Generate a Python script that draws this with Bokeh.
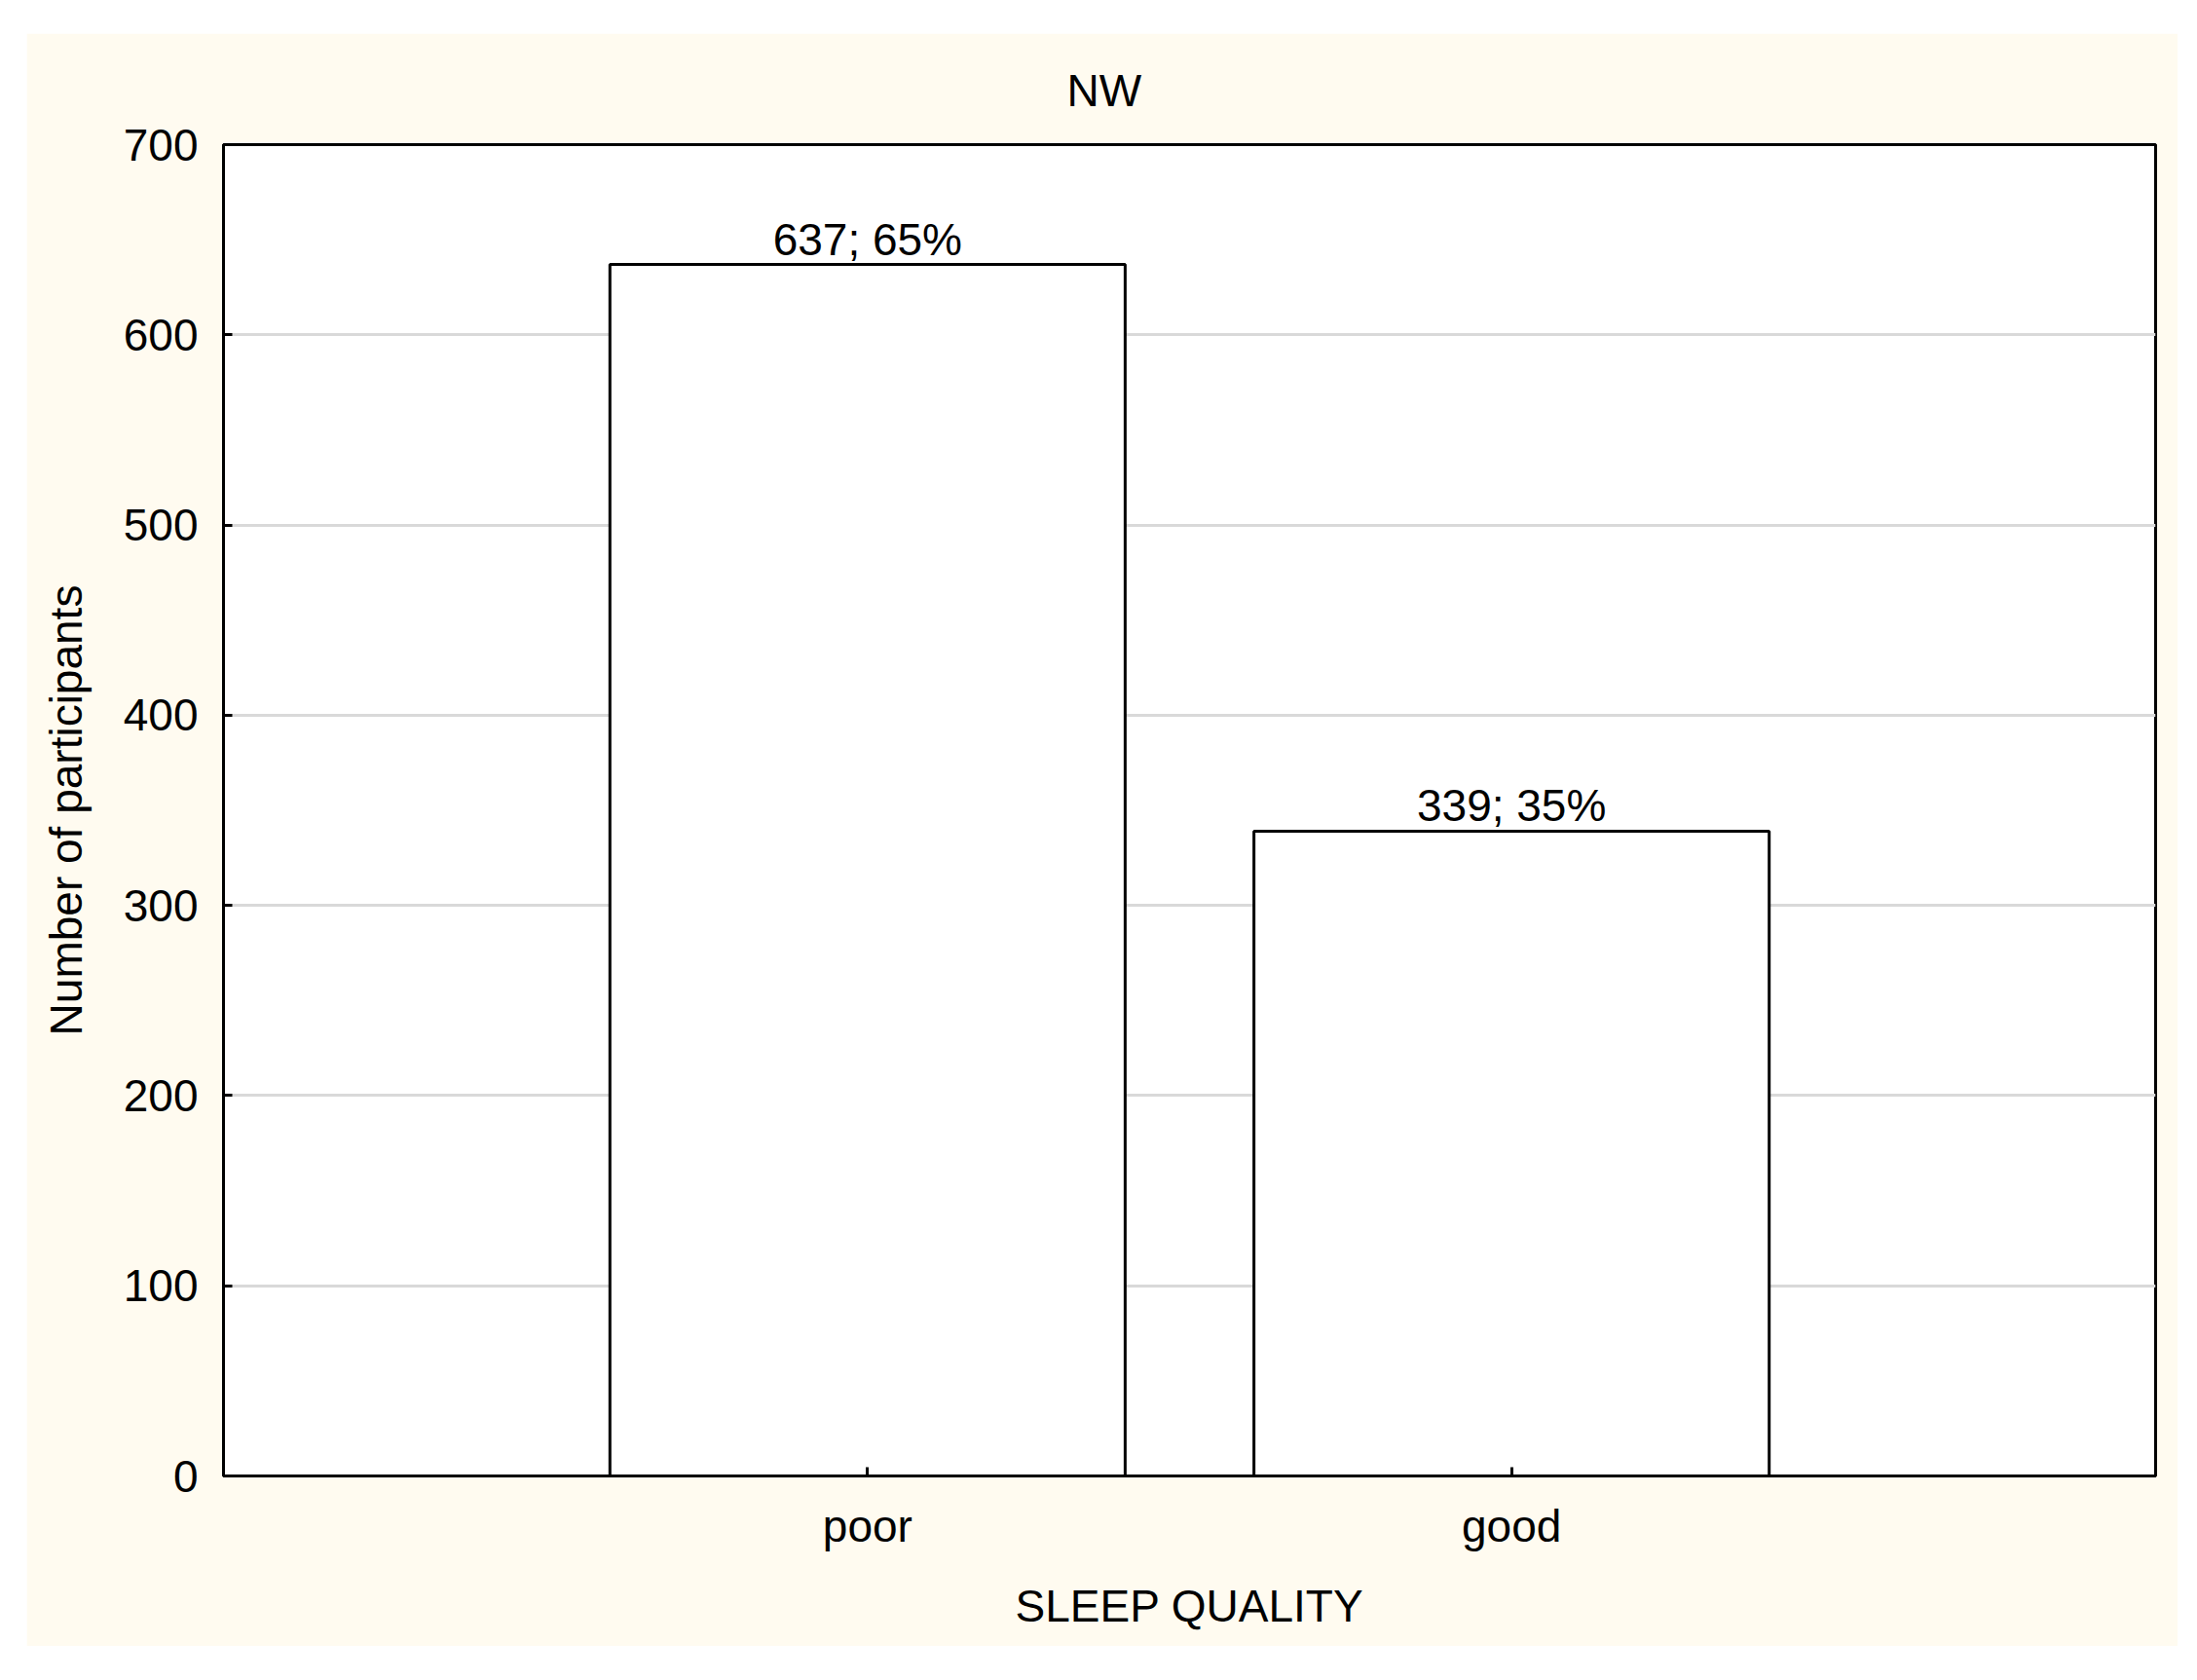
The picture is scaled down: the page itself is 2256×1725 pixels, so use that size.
from bokeh.plotting import figure
from bokeh.models import ColumnDataSource, FactorRange, Range1d, FixedTicker, LabelSet
from bokeh.core.properties import value
from bokeh.embed import file_html
from bokeh.resources import INLINE

categories = ["poor", "good"]
counts = [637, 339]
percents = [65, 35]
y_ticks = [0, 100, 200, 300, 400, 500, 600, 700]
title_text = "NW"
x_label = "SLEEP QUALITY"
y_label = "Number of participants"

labels = [f"{c}; {p}%" for c, p in zip(counts, percents)]
src = ColumnDataSource(data=dict(cat=categories, count=counts, label=labels))

FONT = "Liberation Sans"
CREAM = "#fffbf0"

p = figure(
    x_range=FactorRange(factors=categories, range_padding=0.5, range_padding_units="absolute"),
    y_range=Range1d(0, 700),
    width=2209, height=1656,
    output_backend="svg", toolbar_location=None,
    min_border_left=202, min_border_right=23, min_border_top=114, min_border_bottom=175,
    title=title_text,
)
p.margin = (34, 0, 0, 27)
p.border_fill_color = CREAM
p.background_fill_color = "white"
p.outline_line_color = "black"
p.outline_line_width = 3

p.vbar(x="cat", top="count", width=0.8, source=src,
       fill_color="white", line_color="black", line_width=3)

p.add_layout(LabelSet(x="cat", y="count", text="label", source=src,
                      text_align="center", text_baseline="alphabetic", y_offset=10,
                      text_font=value(FONT), text_font_size=value("46px"),
                      text_color="black"))

# title
p.title.text_font = FONT
p.title.text_font_size = "46px"
p.title.text_font_style = "normal"
p.title.text_color = "black"
p.title.align = "left"
p.title.offset = 866
p.title.standoff = 60

# grids
p.xgrid.grid_line_color = None
p.ygrid.grid_line_color = "#d9d9d9"
p.ygrid.grid_line_width = 3

# y axis
p.yaxis.ticker = FixedTicker(ticks=y_ticks)
p.yaxis.axis_label = y_label
p.yaxis.minor_tick_line_color = None

for ax in (p.xaxis[0], p.yaxis[0]):
    ax.axis_line_color = "black"
    ax.axis_line_width = 3
    ax.major_tick_in = 9
    ax.major_tick_out = 0
    ax.major_tick_line_width = 3
    ax.major_tick_line_color = "black"
    ax.major_label_text_font = FONT
    ax.major_label_text_font_size = "46px"
    ax.major_label_text_color = "black"
    ax.axis_label_text_font = FONT
    ax.axis_label_text_font_style = "normal"
    ax.axis_label_text_color = "black"
    ax.axis_label_text_font_size = "46px"

p.yaxis.major_label_standoff = 26
p.yaxis.axis_label_standoff = 30

p.xaxis.axis_label = x_label
p.xaxis.major_label_standoff = 25
p.xaxis.axis_label_standoff = 27

open("out.html", "w").write(file_html(p, INLINE))
